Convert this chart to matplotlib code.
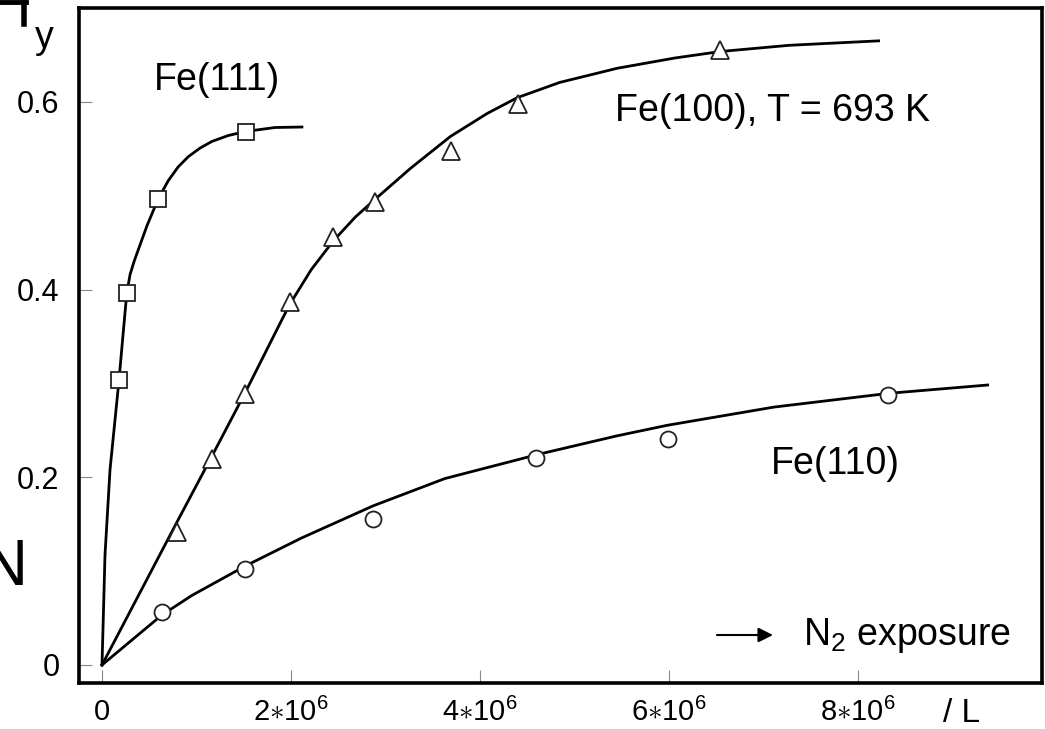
import matplotlib
matplotlib.use("Agg")
import matplotlib.pyplot as plt
from matplotlib.lines import Line2D

plt.rcParams['font.family'] = ['Liberation Sans', 'DejaVu Sans']
plt.rcParams['mathtext.fontset'] = 'custom'
plt.rcParams['mathtext.rm'] = 'Liberation Sans'
plt.rcParams['mathtext.it'] = 'Liberation Sans:italic'

# exposure in units of 10^6 L, coverage y
fe111_x = [0.180, 0.262, 0.593, 1.520]
fe111_y = [0.304, 0.396, 0.497, 0.568]
fe111_curve_x = [0.0, 0.0318, 0.0847, 0.1324, 0.1801, 0.2225, 0.2617, 0.2966,
                 0.3390, 0.3845, 0.4767, 0.5964, 0.7023, 0.8051, 0.9142, 1.0381,
                 1.1621, 1.3347, 1.5148, 1.8326, 2.1155]
fe111_curve_y = [0.0, 0.1173, 0.2080, 0.2559, 0.3039, 0.3519, 0.3956, 0.4159,
                 0.4298, 0.4426, 0.4682, 0.4970, 0.5162, 0.5306, 0.5417, 0.5508,
                 0.5578, 0.5641, 0.5684, 0.5727, 0.5732]

fe100_x = [0.794, 1.159, 1.513, 1.989, 2.448, 2.889, 3.693, 4.399, 6.540]
fe100_y = [0.142, 0.220, 0.289, 0.387, 0.456, 0.493, 0.548, 0.598, 0.655]
fe100_curve_x = [0.0, 0.7945, 1.1653, 1.5148, 1.9036, 1.9915, 2.2140, 2.4502,
                 2.6801, 2.8919, 3.2627, 3.6864, 4.0752, 4.3930, 4.8432, 5.4523,
                 6.0593, 6.5466, 7.2765, 8.2182]
fe100_curve_y = [0.0, 0.1525, 0.2229, 0.2901, 0.3679, 0.3850, 0.4212, 0.4522,
                 0.4772, 0.4964, 0.5290, 0.5631, 0.5876, 0.6044, 0.6207, 0.6358,
                 0.6467, 0.6537, 0.6603, 0.6650]

fe110_x = [0.635, 1.513, 2.868, 4.593, 5.989, 8.317]
fe110_y = [0.056, 0.102, 0.156, 0.221, 0.241, 0.288]
fe110_curve_x = [0.0, 0.6356, 0.9513, 1.5169, 2.1070, 2.8676, 3.6271, 4.6398,
                 5.4523, 5.9820, 7.1112, 8.3294, 9.3718]
fe110_curve_y = [0.0, 0.0534, 0.0741, 0.1055, 0.1351, 0.1695, 0.1986, 0.2250,
                 0.2442, 0.2554, 0.2748, 0.2895, 0.2983]

xticks = [0, 2, 4, 6, 8]
xtick_labels = ['0', r'$2{\ast}10^6$', r'$4{\ast}10^6$', r'$6{\ast}10^6$', r'$8{\ast}10^6$']
yticks = [0, 0.2, 0.4, 0.6]
ytick_labels = ['0', '0.2', '0.4', '0.6']

fig = plt.figure(figsize=(10.45, 7.29), dpi=100)
ax = fig.add_axes([0.0756, 0.0631, 0.9215, 0.9259])

lw = 2.0
ax.plot(fe111_curve_x, fe111_curve_y, color='black', lw=lw, zorder=2,
        solid_joinstyle='round')
ax.plot(fe100_curve_x, fe100_curve_y, color='black', lw=lw, zorder=2,
        solid_joinstyle='round')
ax.plot(fe110_curve_x, fe110_curve_y, color='black', lw=lw, zorder=2,
        solid_joinstyle='round')

ax.plot(fe111_x, fe111_y, ls='none', marker='s', ms=11.3, mfc='white',
        mec='#222222', mew=1.3, zorder=3)
ax.plot(fe100_x, fe100_y, ls='none', marker='^', ms=13, mfc='white',
        mec='#222222', mew=1.3, zorder=3)
ax.plot(fe110_x, fe110_y, ls='none', marker='o', ms=11.5, mfc='white',
        mec='#222222', mew=1.3, zorder=3)

ax.set_xlim(-0.2434, 9.947)
ax.set_ylim(-0.0192, 0.700)
ax.set_xticks(xticks)
ax.set_xticklabels(xtick_labels)
ax.set_yticks(yticks)
ax.set_yticklabels(ytick_labels)
ax.tick_params(direction='in', length=9.4, width=0.8, color='#888888')
ax.tick_params(axis='x', labelsize=21, pad=11)
ax.tick_params(axis='y', labelsize=22, pad=14)
for s in ax.spines.values():
    s.set_linewidth(2.6)

fs = 27
ax.text(0.55, 0.6125, 'Fe(111)', fontsize=fs, va='baseline', ha='left')
ax.text(5.43, 0.580, 'Fe(100), T = 693 K', fontsize=fs, va='baseline', ha='left')
ax.text(7.076, 0.2037, 'Fe(110)', fontsize=fs, va='baseline', ha='left')

ax.annotate('', xy=(0.7207, 0.0711), xytext=(0.6625, 0.0711),
            xycoords='axes fraction',
            arrowprops=dict(arrowstyle='-|>', color='black', lw=1.5,
                            mutation_scale=22, shrinkA=0, shrinkB=0))
ax.text(0.7518, 0.0563, r'N$_2$ exposure', fontsize=fs, va='baseline',
        ha='left', transform=ax.transAxes)
ax.text(0.916, -0.045, '/ L', fontsize=24, va='center', ha='center',
        transform=ax.transAxes, clip_on=False)

fig.text(0.042, 0.934, 'y', fontsize=fs, va='baseline', ha='center')
# clipped remnants at the left edge of the scan
fig.text(28 / 1045, 1 - 585 / 729, 'N', fontsize=47, va='baseline', ha='right')
fig.add_artist(Line2D([0, 26 / 1045], [1 - 2 / 729, 1 - 2 / 729],
                      color='black', lw=3.5, transform=fig.transFigure))
fig.add_artist(Line2D([23.5 / 1045, 23.5 / 1045], [1.0, 1 - 24 / 729],
                      color='black', lw=4.0, transform=fig.transFigure))

fig.savefig('out.png', dpi=100)
